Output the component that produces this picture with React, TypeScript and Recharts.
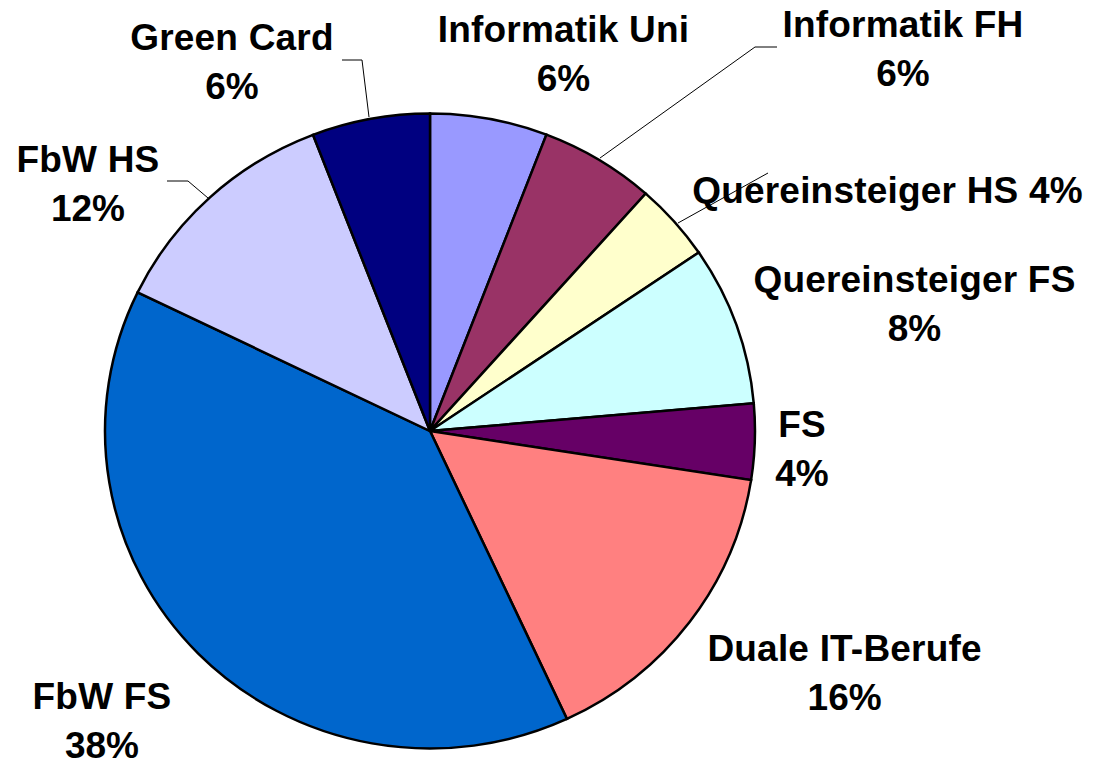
import React from 'react';
import { PieChart, Pie, Cell } from 'recharts';

const categories = [
  'Informatik Uni',
  'Informatik FH',
  'Quereinsteiger HS',
  'Quereinsteiger FS',
  'FS',
  'Duale IT-Berufe',
  'FbW FS',
  'FbW HS',
  'Green Card',
];
const values = [5.83, 5.72, 3.94, 8.11, 3.86, 15.6, 39.1, 11.94, 5.86];
const percentLabels = ['6%', '6%', '4%', '8%', '4%', '16%', '38%', '12%', '6%'];
const colors = ['#9999FF', '#993366', '#FFFFCC', '#CCFFFF', '#660066', '#FF8080', '#0066CC', '#CCCCFF', '#000080'];

// label layout relative to pie centre: [dx, baseline dy, single line]
const labelLayout: [number, number, boolean][] = [
  [133.5, -389.5, false],
  [473, -394.5, false],
  [457.5, -227.7, true],
  [484.5, -139.5, false],
  [372, 5.7, false],
  [414.6, 229.7, false],
  [-328, 278, false],
  [-342, -259.5, false],
  [-198, -381, false],
];
// leader lines relative to pie centre
const leaders: Record<number, [number, number][]> = {
  1: [[347, -384], [325, -384], [170, -273]],
  2: [[338, -258], [248, -208]],
  7: [[-263, -250], [-242, -250], [-222, -233]],
  8: [[-88, -371], [-68, -371], [-61, -314]],
};

const data = categories.map((name, i) => ({ name, value: values[i] }));

const CX = 430;
const CY = 431;
const RX = 325;
const RY = 317.5;
const LINE_H = 49;

const renderLabel = (props: any) => {
  const i = props.index as number;
  const cx = typeof props.cx === 'number' ? props.cx : CX;
  const cy = typeof props.cy === 'number' ? props.cy : CY;
  const [dx, dy, single] = labelLayout[i];
  const x = cx + dx;
  const y = cy + dy;
  const lead = leaders[i];
  return (
    <g key={`lbl-${i}`}>
      {lead && (
        <polyline
          points={lead.map(([a, b]) => `${cx + a},${cy + b}`).join(' ')}
          fill="none"
          stroke="#000"
          strokeWidth={1}
        />
      )}
      <text
        x={x}
        y={y}
        textAnchor="middle"
        fontFamily="'Liberation Sans', Arial, sans-serif"
        fontWeight="bold"
        fontSize={37}
        letterSpacing={0.2}
        fill="#000"
      >
        {single ? `${categories[i]} ${percentLabels[i]}` : categories[i]}
      </text>
      {!single && (
        <text
          x={x}
          y={y + LINE_H}
          textAnchor="middle"
          fontFamily="'Liberation Sans', Arial, sans-serif"
          fontWeight="bold"
          fontSize={37}
          fill="#000"
        >
          {percentLabels[i]}
        </text>
      )}
    </g>
  );
};

export default function App() {
  return (
    <div style={{ position: 'absolute', left: 0, top: 0, width: 1097, height: 762, background: '#fff' }}>
      <style>{`.recharts-pie .recharts-sector{transform-origin:${CX}px ${CY}px;transform:scaleY(${RY / RX});}`}</style>
      <PieChart width={1097} height={762} margin={{ top: 0, right: 0, bottom: 0, left: 0 }}>
        <Pie
          data={data}
          dataKey="value"
          nameKey="name"
          cx={CX}
          cy={CY}
          outerRadius={RX}
          innerRadius={0}
          startAngle={90}
          endAngle={-270}
          stroke="#000"
          strokeWidth={2.5}
          label={renderLabel}
          labelLine={false}
          isAnimationActive={false}
        >
          {data.map((d, i) => (
            <Cell key={d.name} fill={colors[i]} stroke="#000" strokeWidth={2.5} />
          ))}
        </Pie>
      </PieChart>
    </div>
  );
}
